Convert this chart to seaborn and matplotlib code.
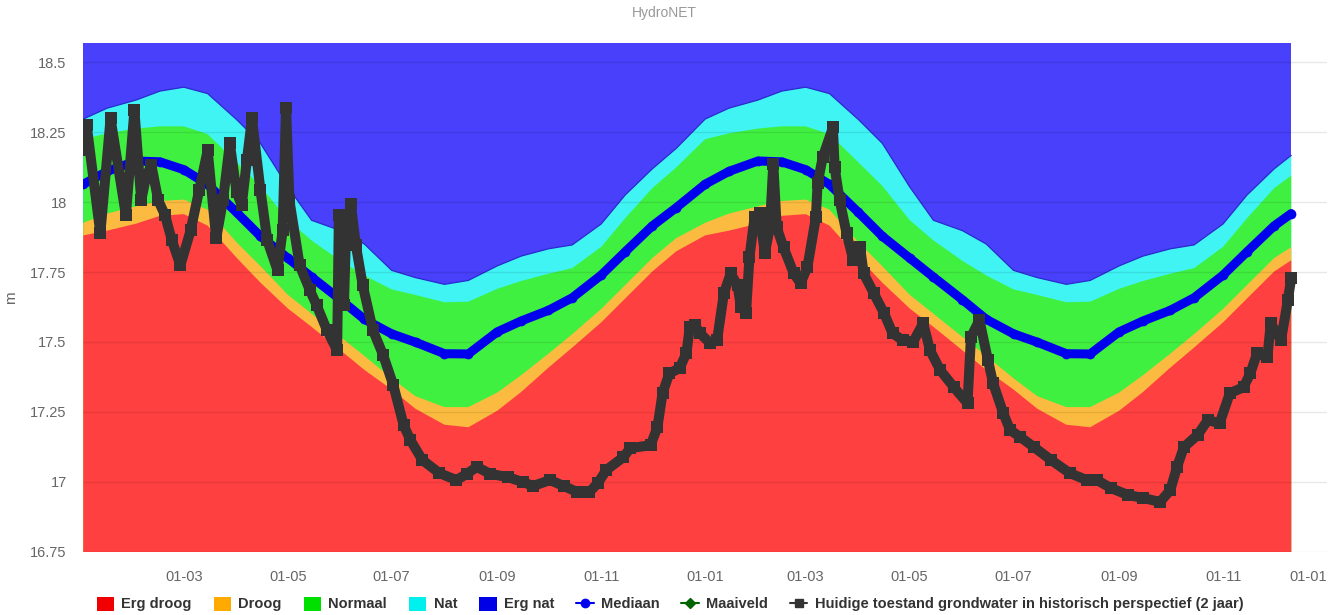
import numpy as np
import pandas as pd
import matplotlib
matplotlib.use("Agg")
import matplotlib.pyplot as plt
import matplotlib.dates as mdates
from matplotlib.patches import Patch
from matplotlib.lines import Line2D
import seaborn as sns

# ---------------- data ----------------
start_date = "2018-01-01"

# Historical percentile bands (days since start_date)
band_day = [0, 14, 31, 45, 59, 73, 90, 104, 120, 134, 151, 165, 181, 195, 212, 226,
            243, 257, 273, 287, 304, 318, 334, 348,
            365, 379, 396, 410, 424, 438, 455, 469, 485, 499, 516, 530, 546, 560,
            577, 591, 608, 622, 638, 652, 669, 683, 699, 709]

erg_droog_top = [17.881, 17.898, 17.923, 17.951, 17.957, 17.916, 17.801, 17.712, 17.620, 17.554,
                 17.470, 17.400, 17.330, 17.261, 17.204, 17.195, 17.254, 17.321, 17.408, 17.480,
                 17.570, 17.655, 17.752, 17.824,
                 17.881, 17.898, 17.923, 17.951, 17.957, 17.916, 17.801, 17.712, 17.620, 17.554,
                 17.470, 17.400, 17.330, 17.261, 17.204, 17.195, 17.254, 17.321, 17.408, 17.480,
                 17.570, 17.655, 17.752, 17.792]

droog_top = [17.926, 17.959, 17.985, 18.004, 18.009, 17.973, 17.856, 17.771, 17.669, 17.601,
             17.518, 17.450, 17.370, 17.306, 17.267, 17.267, 17.319, 17.381, 17.458, 17.528,
             17.618, 17.703, 17.800, 17.871,
             17.926, 17.959, 17.985, 18.004, 18.009, 17.973, 17.856, 17.771, 17.669, 17.601,
             17.518, 17.450, 17.370, 17.306, 17.267, 17.267, 17.319, 17.381, 17.458, 17.528,
             17.618, 17.703, 17.800, 17.839]

normaal_top = [18.225, 18.246, 18.263, 18.271, 18.271, 18.243, 18.142, 18.058, 17.936, 17.863,
               17.790, 17.738, 17.688, 17.668, 17.642, 17.644, 17.690, 17.718, 17.744, 17.764,
               17.840, 17.942, 18.050, 18.124,
               18.225, 18.246, 18.263, 18.271, 18.271, 18.243, 18.142, 18.058, 17.936, 17.863,
               17.790, 17.738, 17.688, 17.668, 17.642, 17.644, 17.690, 17.718, 17.744, 17.764,
               17.840, 17.942, 18.050, 18.095]

nat_top = [18.297, 18.336, 18.365, 18.397, 18.411, 18.388, 18.295, 18.210, 18.055, 17.935,
           17.898, 17.850, 17.756, 17.730, 17.706, 17.720, 17.772, 17.807, 17.833, 17.847,
           17.922, 18.025, 18.119, 18.192,
           18.297, 18.336, 18.365, 18.397, 18.411, 18.388, 18.295, 18.210, 18.055, 17.935,
           17.898, 17.850, 17.756, 17.730, 17.706, 17.720, 17.772, 17.807, 17.833, 17.847,
           17.922, 18.025, 18.119, 18.167]

mediaan = [18.064, 18.110, 18.147, 18.144, 18.116, 18.063, 17.963, 17.878, 17.800, 17.732,
           17.651, 17.581, 17.529, 17.499, 17.458, 17.457, 17.536, 17.575, 17.613, 17.658,
           17.739, 17.822, 17.915, 17.980,
           18.064, 18.110, 18.147, 18.144, 18.116, 18.063, 17.963, 17.878, 17.800, 17.732,
           17.651, 17.581, 17.529, 17.499, 17.458, 17.457, 17.536, 17.575, 17.613, 17.658,
           17.739, 17.822, 17.915, 17.959]

# Current groundwater level (days since start_date, m)
gw_day = [0, 2, 10, 16, 25, 30, 34, 37, 40, 44, 48, 52, 57, 63, 68, 73, 78, 82, 86, 90,
          93, 96, 99, 104, 108, 114, 117, 119, 121, 127, 133, 137, 143, 149, 150, 152, 153,
          154, 157, 160, 164, 170, 176, 182, 188, 192, 199, 209, 219, 225, 231, 239, 249,
          258, 264, 274, 282, 290, 297, 302, 307, 317, 321, 333, 337, 340, 344, 350, 354,
          356, 359, 362, 368, 372, 376, 380, 384, 386, 389, 391, 394, 397, 400, 403, 405,
          407, 411, 417, 421, 425, 430, 431, 434, 440, 441, 444, 448, 452, 456, 458, 464,
          470, 475, 481, 487, 493, 497, 503, 511, 519, 521, 526, 531, 534, 540, 544, 550,
          558, 568, 579, 589, 595, 603, 613, 622, 632, 638, 642, 646, 654, 660, 667, 673,
          681, 685, 689, 695, 697, 703, 707, 709]
gw_level = [18.185, 18.274, 17.888, 18.299, 17.953, 18.328, 18.006, 18.095, 18.131, 18.006,
            17.953, 17.863, 17.774, 17.899, 18.042, 18.185, 17.870, 18.006, 18.210, 18.035,
            17.988, 18.149, 18.299, 18.042, 17.863, 17.756, 17.899, 18.338, 18.006, 17.774,
            17.685, 17.631, 17.542, 17.470, 17.953, 17.828, 17.631, 17.845, 17.995, 17.845,
            17.703, 17.542, 17.453, 17.345, 17.203, 17.149, 17.078, 17.031, 17.006, 17.028,
            17.053, 17.028, 17.017, 16.999, 16.985, 17.006, 16.985, 16.963, 16.963, 16.995,
            17.042, 17.088, 17.120, 17.131, 17.195, 17.317, 17.388, 17.406, 17.460, 17.553,
            17.560, 17.531, 17.495, 17.506, 17.674, 17.745, 17.703, 17.624, 17.603, 17.803,
            17.945, 17.960, 17.817, 17.910, 18.138, 17.910, 17.838, 17.745, 17.710, 17.767,
            17.945, 18.067, 18.160, 18.267, 18.124, 18.006, 17.888, 17.792, 17.838, 17.745,
            17.674, 17.603, 17.531, 17.506, 17.499, 17.567, 17.470, 17.399, 17.338, 17.281,
            17.517, 17.578, 17.435, 17.353, 17.245, 17.185, 17.160, 17.124, 17.078, 17.031,
            17.006, 17.006, 16.978, 16.953, 16.942, 16.928, 16.970, 17.053, 17.124, 17.167,
            17.220, 17.210, 17.317, 17.338, 17.388, 17.460, 17.445, 17.567, 17.506, 17.649,
            17.728]

y_ticks = [16.75, 17.0, 17.25, 17.5, 17.75, 18.0, 18.25, 18.5]
y_tick_labels = ["16.75", "17", "17.25", "17.5", "17.75", "18", "18.25", "18.5"]
x_tick_dates = ["2018-03-01", "2018-05-01", "2018-07-01", "2018-09-01", "2018-11-01",
                "2019-01-01", "2019-03-01", "2019-05-01", "2019-07-01", "2019-09-01",
                "2019-11-01", "2020-01-01"]

legend_labels = ["Erg droog", "Droog", "Normaal", "Nat", "Erg nat", "Mediaan", "Maaiveld",
                 "Huidige toestand grondwater in historisch perspectief (2 jaar)"]

# ---------------- styling ----------------
sns.set_theme(style="white")
plt.rcParams["font.family"] = ["Liberation Sans", "DejaVu Sans"]

W, H = 1328, 615
fig = plt.figure(figsize=(W / 100, H / 100), dpi=100)
left, right, top, bottom = 83.3, 1327.0, 42.7, 551.7
ax = fig.add_axes([left / W, 1 - bottom / H, (right - left) / W, (bottom - top) / H])

t0 = pd.Timestamp(start_date)
bx = t0 + pd.to_timedelta(band_day, unit="D")
gx = t0 + pd.to_timedelta(gw_day, unit="D")

Y_MIN, Y_MAX = 16.75, 18.57
low = np.full(len(band_day), Y_MIN - 1)
high = np.full(len(band_day), Y_MAX + 1)

c_red, c_orange, c_green, c_cyan, c_blue = "#FF4040", "#FBBB40", "#40F040", "#40F4F4", "#4840FA"
ax.fill_between(bx, low, high, color=c_blue, lw=0, zorder=1)
ax.fill_between(bx, low, nat_top, color=c_cyan, lw=0, zorder=1)
ax.fill_between(bx, low, normaal_top, color=c_green, lw=0, zorder=1)
ax.fill_between(bx, low, droog_top, color=c_orange, lw=0, zorder=1)
ax.fill_between(bx, low, erg_droog_top, color=c_red, lw=0, zorder=1)
ax.plot(bx, nat_top, color="#2A2ACF", lw=0.9, zorder=1.2)

# horizontal grid lines between the bands and the series
for yv in y_ticks:
    ax.axhline(yv, color="black", alpha=0.09, lw=1.0, zorder=1.5)

band_df = pd.DataFrame({"datum": bx, "mediaan": mediaan})
gw_df = pd.DataFrame({"datum": gx, "stand": gw_level})

sns.lineplot(data=band_df, x="datum", y="mediaan", ax=ax, color="#0000EE", lw=6.5,
             marker="o", markersize=7, markeredgewidth=0, solid_capstyle="round", zorder=3)
sns.lineplot(data=gw_df, x="datum", y="stand", ax=ax, color="#333333", lw=7.2,
             marker="s", markersize=8.5, markeredgewidth=0, zorder=4)

ax.set_xlim(t0, pd.Timestamp("2020-01-01"))
ax.set_ylim(Y_MIN, Y_MAX)
ax.set_yticks(y_ticks)
ax.set_yticklabels(y_tick_labels)
ax.set_xticks(pd.to_datetime(x_tick_dates))
ax.xaxis.set_major_formatter(mdates.DateFormatter("%d-%m"))
ax.tick_params(axis="both", length=0, labelsize=10.5, labelcolor="#666666")
ax.tick_params(axis="x", pad=13)
ax.tick_params(axis="y", pad=12)
xl = ax.get_xticklabels()
xl[-1].set_horizontalalignment("right")

ax.grid(False)
for s in ax.spines.values():
    s.set_visible(False)
ax.set_xlabel("")
ax.set_ylabel("m", color="#666666", fontsize=11)
ax.yaxis.set_label_coords((18 - left) / (right - left), 0.5)

fig.text(0.5, 1 - 13 / H, "HydroNET", ha="center", va="center", color="#999999", fontsize=10)

handles = [
    Patch(facecolor="#F00000", edgecolor="none"),
    Patch(facecolor="#FFAA00", edgecolor="none"),
    Patch(facecolor="#00E000", edgecolor="none"),
    Patch(facecolor="#00F0F0", edgecolor="none"),
    Patch(facecolor="#0000E6", edgecolor="none"),
    Line2D([], [], color="#0000EE", lw=1.5, marker="o", markersize=6),
    Line2D([], [], color="#006400", lw=1.5, marker="D", markersize=5),
    Line2D([], [], color="#333333", lw=1.5, marker="s", markersize=6),
]
fig.legend(handles, legend_labels, loc="center", bbox_to_anchor=(670 / W, 1 - 604 / H),
           ncol=8, frameon=False, prop={"weight": "bold", "size": 10.5},
           labelcolor="#333333", handlelength=1.2, handleheight=1.1, handletextpad=0.5,
           columnspacing=1.5, borderaxespad=0)

fig.savefig("out.png", dpi=100)
